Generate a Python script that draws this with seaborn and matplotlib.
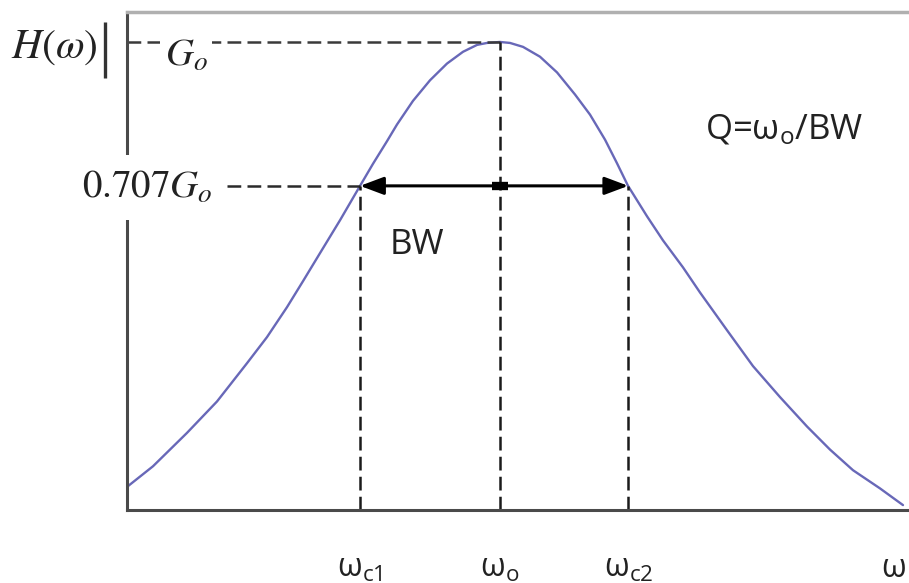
import matplotlib
matplotlib.use("Agg")
import matplotlib.pyplot as plt
import matplotlib.transforms as mtransforms
import pandas as pd
import seaborn as sns

# Band-pass magnitude response, gain normalised to the peak value G_o = 1
omega = [0.000, 0.332, 0.767, 1.151, 1.535, 1.790, 2.046, 2.251, 2.468, 2.724,
         2.980, 3.146, 3.325, 3.453, 3.657, 3.875, 4.092, 4.297, 4.476, 4.604,
         4.770, 4.898, 5.064, 5.281, 5.499, 5.729, 5.921, 6.113, 6.266, 6.407,
         6.650, 6.854, 7.110, 7.327, 7.673, 8.005, 8.350, 8.696, 8.990, 9.284,
         9.629, 9.923]
gain = [0.094, 0.136, 0.204, 0.268, 0.346, 0.399, 0.460, 0.513, 0.570, 0.637,
        0.707, 0.752, 0.798, 0.832, 0.880, 0.922, 0.956, 0.980, 0.994, 0.998,
        1.000, 0.998, 0.990, 0.970, 0.938, 0.893, 0.852, 0.801, 0.753, 0.707,
        0.645, 0.596, 0.541, 0.490, 0.413, 0.340, 0.277, 0.217, 0.170, 0.128,
        0.091, 0.057]

peak_gain = 1.0
half_power_gain = 0.707
w_c1, w_o, w_c2 = 2.98, 4.77, 6.41
w_axis = 9.80

tick_positions = [w_c1, w_o, w_c2, w_axis]
tick_labels = [r"$\mathrm{ω}_{\mathrm{c1}}$", r"$\mathrm{ω}_{\mathrm{o}}$",
               r"$\mathrm{ω}_{\mathrm{c2}}$", r"$\mathrm{ω}$"]

sns.set_theme(style="white")
plt.rcParams["font.family"] = ["Open Sans", "DejaVu Sans"]
plt.rcParams["mathtext.fontset"] = "custom"
plt.rcParams["mathtext.rm"] = "Open Sans"
plt.rcParams["mathtext.it"] = "Open Sans:italic"
plt.rcParams["mathtext.bf"] = "Open Sans:bold"

df = pd.DataFrame({"omega": omega, "gain": gain})

fig = plt.figure(figsize=(9.09, 5.83), dpi=100)
ax = fig.add_axes([127 / 909, 73 / 583, 782 / 909, 498 / 583])

sns.lineplot(data=df, x="omega", y="gain", ax=ax, color="#6868b8", lw=1.7,
             sort=False, estimator=None)

ax.set_xlim(0, 10)
y_bottom, y_top = 0.047, 1.061
ax.set_ylim(y_bottom, y_top)

dash = (0, (5.5, 2.5))
ax.hlines(peak_gain, 0, w_o, colors="#3a3a3a", linewidth=1.8, linestyles=dash, zorder=2)
ax.hlines(half_power_gain, 0, w_c1, colors="#2a2a2a", linewidth=1.8, linestyles=dash, zorder=2)
ax.vlines(w_o, y_bottom, peak_gain, colors="#1a1a1a", linewidth=1.8, linestyles=dash, zorder=2)
ax.vlines([w_c1, w_c2], y_bottom, half_power_gain, colors="#1a1a1a", linewidth=1.8,
          linestyles=dash, zorder=2)

# Bandwidth arrow between the half-power frequencies
ax.annotate("", xy=(w_c2, half_power_gain), xytext=(w_c1, half_power_gain),
            arrowprops=dict(arrowstyle="<|-|>,head_length=0.8,head_width=0.3",
                            lw=2.2, color="black", shrinkA=0, shrinkB=0,
                            mutation_scale=18), zorder=4)
ax.plot([w_o], [half_power_gain], marker="_", ms=12, mew=6, color="black", zorder=5)

# Axes frame
for side in ("left", "bottom"):
    ax.spines[side].set_color("#4a4a4a")
    ax.spines[side].set_linewidth(2.2)
ax.spines["top"].set_color("#b0b0b0")
ax.spines["top"].set_linewidth(2.5)
ax.spines["right"].set_visible(False)

ax.set_xticks(tick_positions, tick_labels)
ax.set_yticks([])
ax.tick_params(axis="x", length=0, pad=30, labelsize=23, labelcolor="#222222")
ax.set_xlabel("")
ax.set_ylabel("")

# Gain labels on the vertical axis
ax.annotate(r"$H(\omega)$", xy=(0, peak_gain), xycoords=("axes fraction", "data"),
            xytext=(-29, -5), textcoords="offset pixels", ha="right", va="center",
            fontsize=30, math_fontfamily="stix", color="#222222")
# magnitude bar closing |H(omega)|
bar_tf = mtransforms.blended_transform_factory(ax.transAxes, ax.transData)
ax.plot([-22 / 782, -22 / 782], [1.041, 0.927], transform=bar_tf, color="#333333",
        lw=2.4, clip_on=False, solid_capstyle="butt")
box = dict(boxstyle="square,pad=0.12", fc="white", ec="none")
ax.annotate(r"$G_o$", xy=(0, peak_gain), xycoords=("axes fraction", "data"),
            xytext=(38, -14), textcoords="offset pixels", ha="left", va="center",
            fontsize=28, math_fontfamily="stix", color="#222222", bbox=box, zorder=6)
ax.annotate(r"$0.707G_o$", xy=(0, half_power_gain), xycoords=("axes fraction", "data"),
            xytext=(85, -2), textcoords="offset pixels", ha="right", va="center",
            fontsize=28, math_fontfamily="stix", color="#222222",
            bbox=dict(boxstyle="square,pad=0.35", fc="white", ec="none"),
            annotation_clip=False, zorder=6)

ax.text(7.39, 0.82, r"Q=$\mathrm{ω}_{\mathrm{o}}$/BW", fontsize=25,
        ha="left", va="center", color="#222222")
ax.text(3.36, 0.587, "BW", fontsize=25, ha="left", va="center", color="#222222")

fig.savefig("out.png", dpi=100)
